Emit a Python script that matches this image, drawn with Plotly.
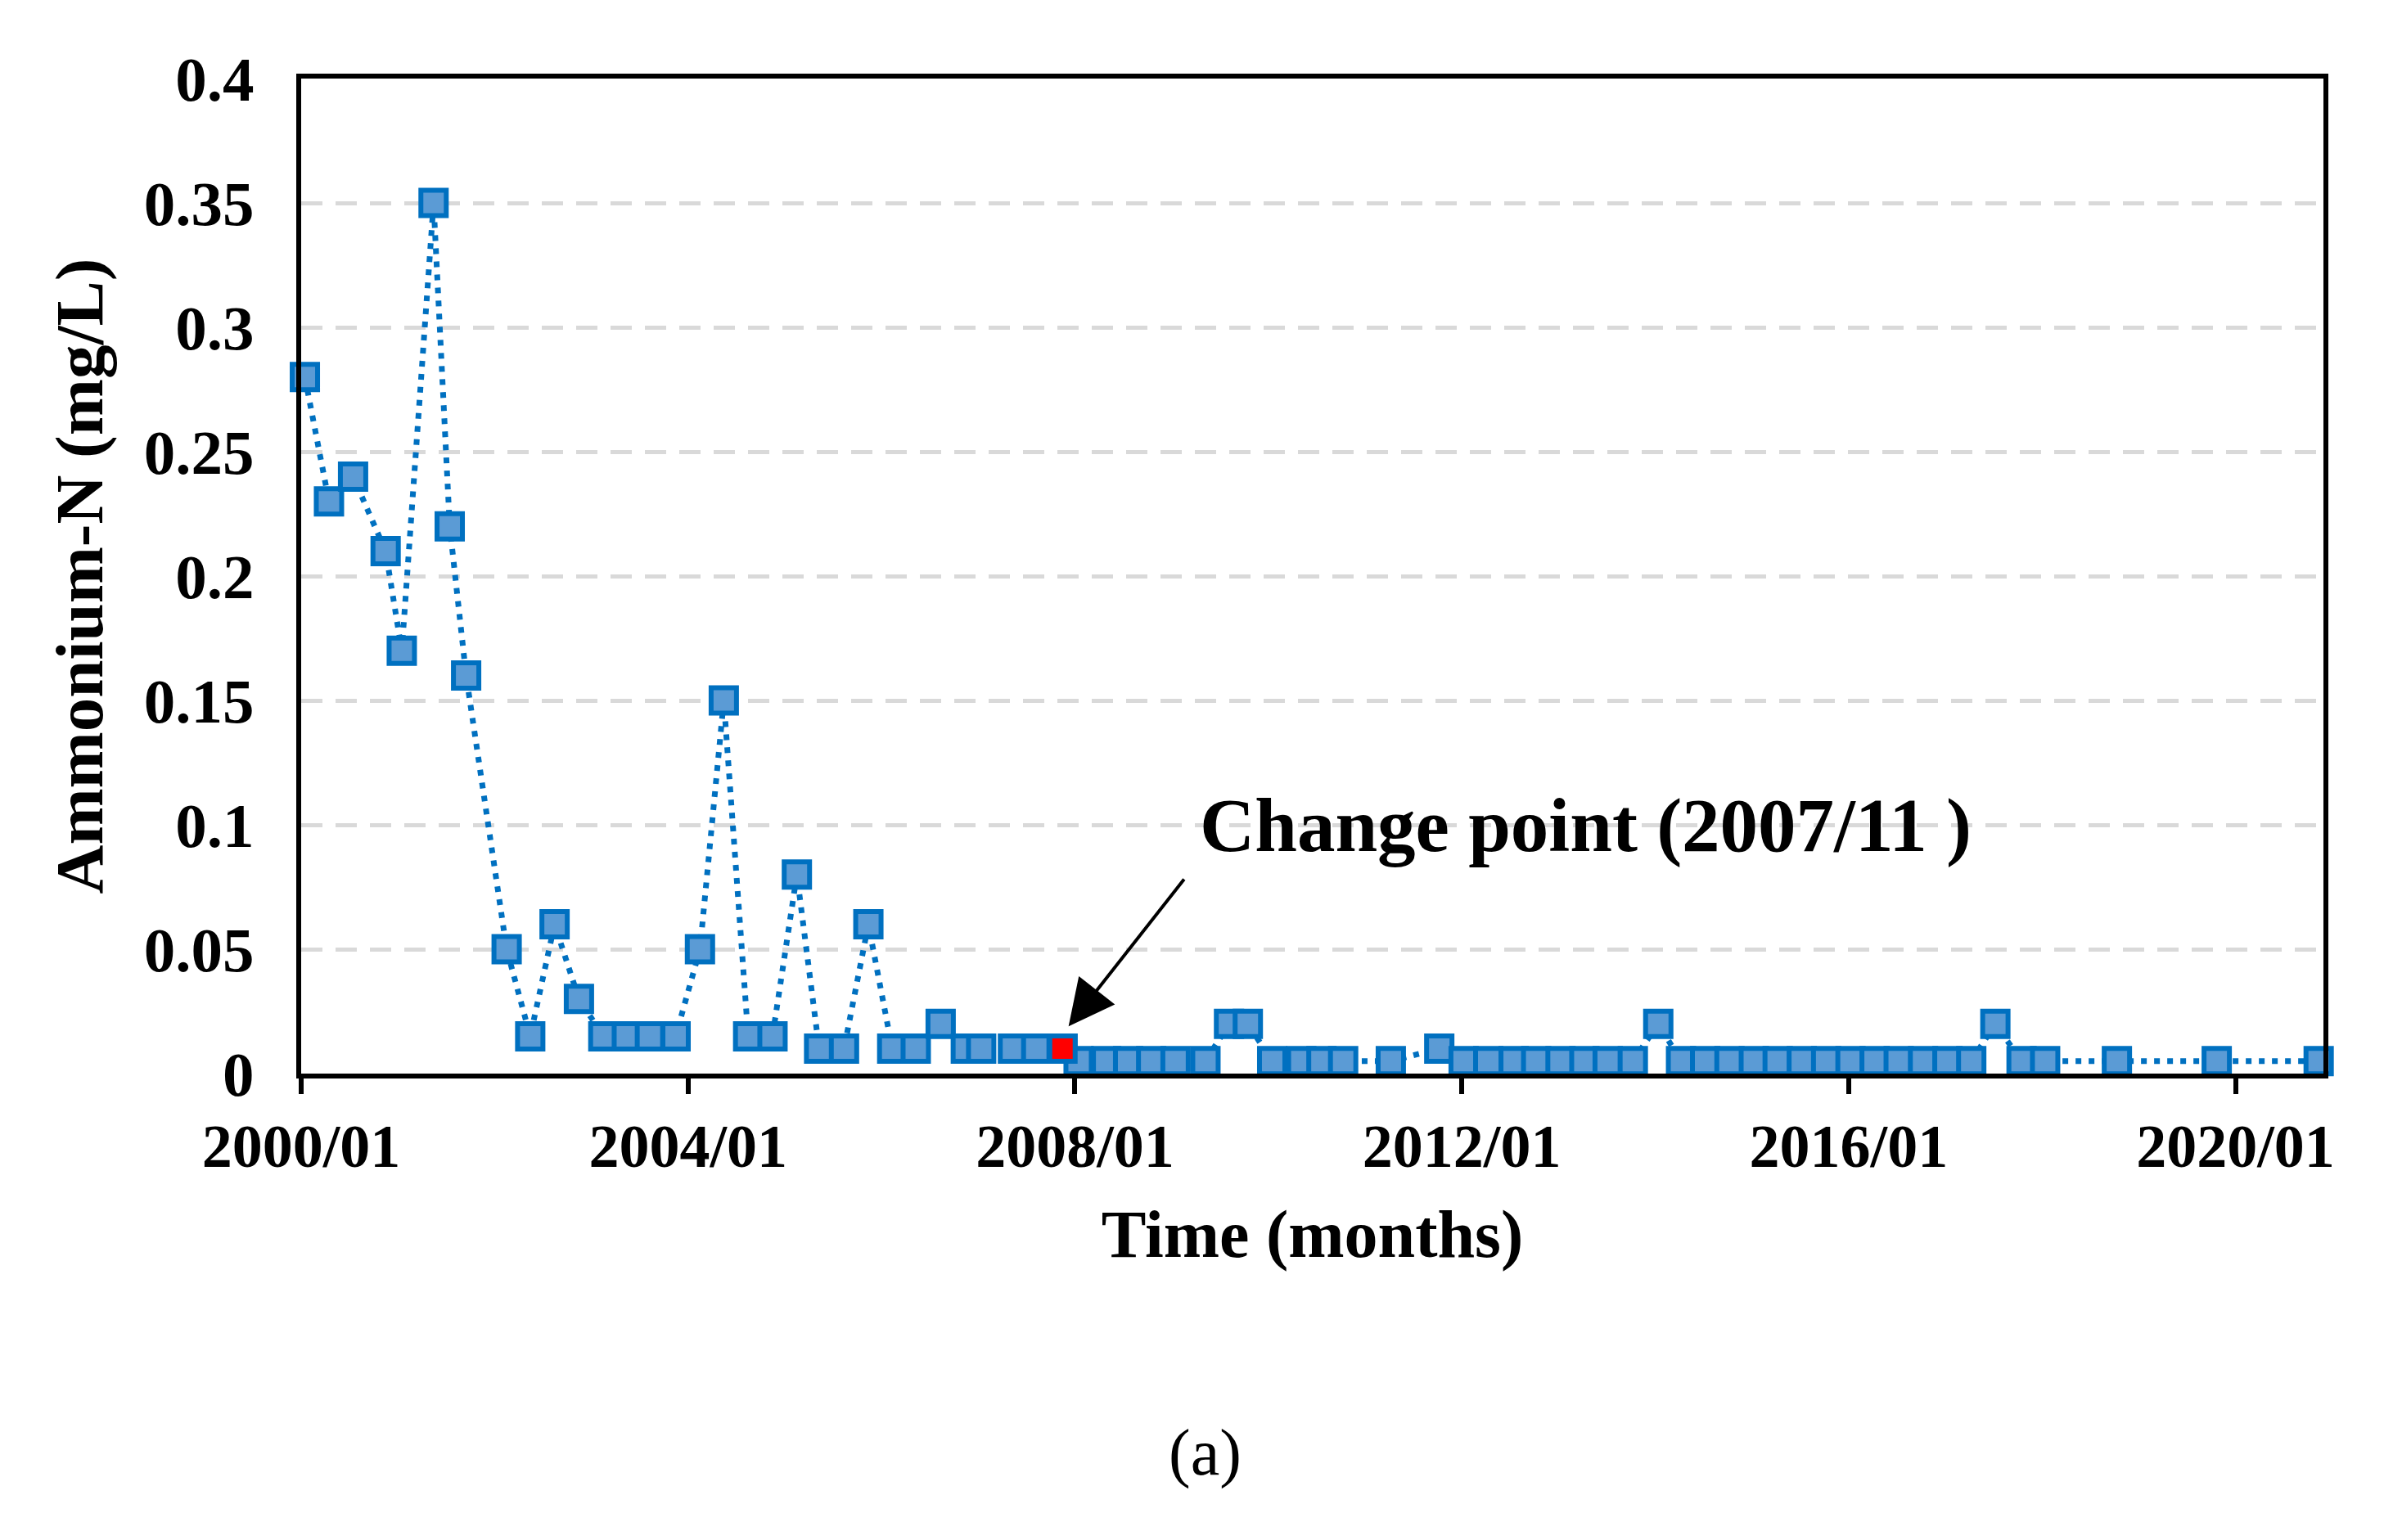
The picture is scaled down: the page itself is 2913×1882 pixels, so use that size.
import plotly.graph_objects as go

# ---- data ----
dates = [
    "2000-01-15", "2000-04-15", "2000-07-15", "2000-11-15", "2001-01-15", "2001-05-15",
    "2001-07-15", "2001-09-15", "2002-02-15", "2002-05-15", "2002-08-15", "2002-11-15",
    "2003-02-15", "2003-05-15", "2003-08-10", "2003-11-15", "2004-02-15", "2004-05-15",
    "2004-08-15", "2004-11-15", "2005-02-15", "2005-05-10", "2005-08-12", "2005-11-12",
    "2006-02-10", "2006-05-10", "2006-08-12", "2006-11-15", "2007-01-12", "2007-05-12",
    "2007-08-08", "2007-11-15",
    "2008-01-15", "2008-04-28", "2008-07-20", "2008-10-15", "2009-01-15", "2009-05-08",
    "2009-08-05", "2009-10-15", "2010-01-15", "2010-05-05", "2010-07-20", "2010-10-10",
    "2011-04-08", "2011-10-08", "2012-01-08", "2012-04-10", "2012-07-15", "2012-10-08",
    "2013-01-08", "2013-04-08", "2013-07-05", "2013-10-08", "2014-01-12", "2014-04-08",
    "2014-07-08", "2014-10-08", "2015-01-08", "2015-04-08", "2015-07-08", "2015-10-08",
    "2016-01-08", "2016-04-08", "2016-07-08", "2016-10-08", "2017-01-08", "2017-04-08",
    "2017-07-08", "2017-10-15", "2018-01-12", "2018-10-10", "2019-10-22", "2020-11-10",
]
ammonium = [
    0.28, 0.23, 0.24, 0.21, 0.17, 0.35,
    0.22, 0.16, 0.05, 0.015, 0.06, 0.03,
    0.015, 0.015, 0.015, 0.015, 0.05, 0.15,
    0.015, 0.015, 0.08, 0.01, 0.01, 0.06,
    0.01, 0.01, 0.02, 0.01, 0.01, 0.01,
    0.01, 0.01,
    0.005, 0.005, 0.005, 0.005, 0.005, 0.005,
    0.02, 0.02, 0.005, 0.005, 0.005, 0.005,
    0.005, 0.01, 0.005, 0.005, 0.005, 0.005,
    0.005, 0.005, 0.005, 0.005, 0.02, 0.005,
    0.005, 0.005, 0.005, 0.005, 0.005, 0.005,
    0.005, 0.005, 0.005, 0.005, 0.005, 0.005,
    0.02, 0.005, 0.005, 0.005, 0.005, 0.005,
]
change_date = "2007-11-15"
change_label = "Change point (2007/11 )"
x_title = "Time (months)"
y_title = "Ammonium-N (mg/L)"
panel_label = "(a)"

ci = dates.index(change_date)

FONT = "Liberation Serif"
BLUE_LINE = "#0070C0"
BLUE_FILL = "#5B9BD5"

fig = go.Figure()
fig.add_trace(go.Scatter(
    x=dates, y=ammonium, mode="lines+markers",
    line=dict(color=BLUE_LINE, width=7, dash="7px,9px"),
    marker=dict(symbol="square", size=31, color=BLUE_FILL,
                line=dict(color=BLUE_LINE, width=6)),
    showlegend=False, cliponaxis=False,
))
fig.add_trace(go.Scatter(
    x=[dates[ci]], y=[ammonium[ci]], mode="markers",
    marker=dict(symbol="square", size=31, color="#FF0000",
                line=dict(color=BLUE_LINE, width=6)),
    showlegend=False, cliponaxis=False,
))

fig.update_layout(
    width=2913, height=1882,
    margin=dict(l=360, r=82, t=88, b=578),
    paper_bgcolor="white", plot_bgcolor="white",
    font=dict(family=FONT, color="black"),
)
fig.update_xaxes(
    type="date", range=["2000-01-01", "2020-11-28"],
    tick0="2000-01-01", dtick="M48", tickformat="%Y/%m",
    showgrid=False, zeroline=False,
    showline=True, linecolor="black", linewidth=6, mirror=True,
    ticks="outside", ticklen=19, tickwidth=6, tickcolor="black",
    tickfont=dict(family=FONT, size=74, weight="bold"),
    ticklabelstandoff=0,
    title=dict(text=x_title, font=dict(family=FONT, size=82, weight="bold"), standoff=40),
)
fig.update_yaxes(
    range=[0, 0.4], dtick=0.05,
    showgrid=True, gridcolor="#D9D9D9", gridwidth=5, griddash="26px,16px",
    zeroline=False,
    showline=True, linecolor="black", linewidth=6, mirror=True,
    ticks="",
    tickfont=dict(family=FONT, size=77, weight="bold"),
    ticklabelstandoff=36,
    title=dict(text=y_title, font=dict(family=FONT, size=83, weight="bold"), standoff=25),
)

fig.add_annotation(
    x="2007-12-08", y=0.019, xref="x", yref="y",
    ax="2009-02-20", ay=0.0786, axref="x", ayref="y",
    text="", showarrow=True, arrowhead=2, arrowsize=2.8, arrowwidth=4, arrowcolor="black",
)
fig.add_annotation(
    x="2009-04-10", y=0.1, xref="x", yref="y", xanchor="left", yanchor="middle",
    text=change_label, showarrow=False,
    font=dict(family=FONT, size=93, weight="bold", color="black"),
)
fig.add_annotation(
    x=0.447, y=-0.381, xref="paper", yref="paper", xanchor="center", yanchor="middle",
    text=panel_label, showarrow=False,
    font=dict(family=FONT, size=80, color="black"),
)

fig.write_html("out.html")
